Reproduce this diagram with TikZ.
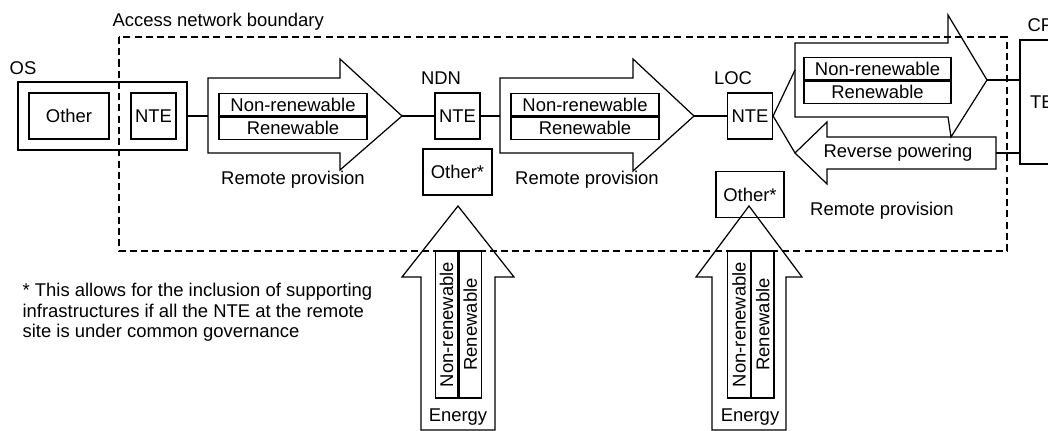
\documentclass[tikz,border=0pt]{standalone}
\usepackage{fontspec}
\setmainfont{Liberation Sans}
\usetikzlibrary{positioning}

\begin{document}
\begin{tikzpicture}[x=0.02cm,y=-0.02cm,line width=0.7pt,
    every node/.style={font=\fontsize{10.5}{11.5}\selectfont,inner sep=0pt},
    box/.style={draw,minimum width=0.9cm,minimum height=0.92cm},
    half/.style={draw,minimum width=2.96cm,minimum height=0.45cm},
    vhalf/.style={draw,rotate=90,minimum width=2.94cm,minimum height=0.45cm},
    bound/.style={dashed,dash pattern=on 4pt off 2.4pt}]
        \useasboundingbox (0,0) rectangle (1048,431);
        % access network boundary
        \draw[bound] (119,37) rectangle (1007,251);
        \node[anchor=west] (accl) at (112,22) {Access network boundary};
        % OS
        \node (osl) at (23,68) {OS};
        \node[draw,minimum width=3.38cm,minimum height=1.36cm] (os) at (102.5,116) {};
        \node[box,minimum width=1.6cm] (oso) at (69,116) {Other};
        \node[box] (osn) at (153.5,116) {NTE};
        % NDN
        \node (ndnl) at (441,78) {NDN};
        \node[box] (ndn) at (457.5,116) {NTE};
        \node[box,minimum width=1.38cm] (ndno) at (457.5,172) {Other*};
        % LOC
        \node (locl) at (733,78) {LOC};
        \node[box] (loc) at (750,116) {NTE};
        \node[box,minimum width=1.36cm] (loco) at (750,194.5) {Other*};
        % CPE
        \node[anchor=west] (cpel) at (1027,25) {CPE};
        \node[draw,minimum width=0.88cm,minimum height=2.48cm] (te) at (1042,102) {TE};
        % remote provision arrows
        \draw (208,78) -- (340,78) -- (340,59) -- (402,116) coordinate (a1tip) -- (340,170) -- (340,153) -- (208,153) -- cycle;
        \draw (500,78) -- (633,78) -- (633,59) -- (694,116) coordinate (a2tip) -- (633,171) -- (633,153) -- (500,153) -- cycle;
        \draw (795,43) -- (948,43) -- (948,15) -- (987,80) coordinate (a3tip) -- (951,137) -- (948,117) -- (795,117) -- cycle;
        \draw (996,137) -- (827,137) -- (827,122) -- (795,153) coordinate (rvtip) -- (827,184) -- (827,169) -- (996,169) -- cycle;
        \coordinate (a1in) at (208,116);
        \coordinate (a2in) at (500,116);
        \coordinate (a3in) at (795,70);
        \coordinate (rvin) at (996,153);
        \node[half] (nr1) at (293,104.5) {Non-renewable};
        \node[half,below=0pt of nr1] (r1) {Renewable};
        \node[half] (nr2) at (585,104.5) {Non-renewable};
        \node[half,below=0pt of nr2] (r2) {Renewable};
        \node[half,minimum width=2.94cm] (nr3) at (877.5,68.5) {Non-renewable};
        \node[half,minimum width=2.94cm,below=0pt of nr3] (r3) {Renewable};
        \node (rp1) at (293,180) {Remote provision};
        \node (rp2) at (587,180) {Remote provision};
        \node (rp3) at (882,211) {Remote provision};
        \node (rvl) at (898,153) {Reverse powering};
        % energy arrows
        \draw (458,206) coordinate (e1tip) -- (514,277) -- (495,277) -- (495,430) -- (421,430) -- (421,277) -- (402,277) -- cycle;
        \draw (749,206) coordinate (e2tip) -- (802,277) -- (786,277) -- (786,430) -- (712,430) -- (712,277) -- (696,277) -- cycle;
        \node[vhalf] (nr4) at (446.5,324.5) {Non-renewable};
        \node[vhalf,anchor=north] (r4) at (nr4.south) {Renewable};
        \node[vhalf] (nr5) at (739,324.5) {Non-renewable};
        \node[vhalf,anchor=north] (r5) at (nr5.south) {Renewable};
        \node (en1) at (458,417) {Energy};
        \node (en2) at (750,417) {Energy};
        % connectors
        \draw (os.east) -- (a1in);
        \draw (a1tip) -- (ndn.west);
        \draw (ndn.east) -- (a2in);
        \draw (a2tip) -- (loc.west);
        \draw (a3in) -- (loc.east) -- (rvtip);
        \draw (a3tip) -- (te.west |- a3tip);
        \draw (rvin) -- (te.west |- rvin);
        % note
        \node[anchor=north west,align=left] (note) at (22,283) {* This allows for the inclusion of supporting\\infrastructures if all the NTE at the remote\\site is under common governance};
\end{tikzpicture}
\end{document}
